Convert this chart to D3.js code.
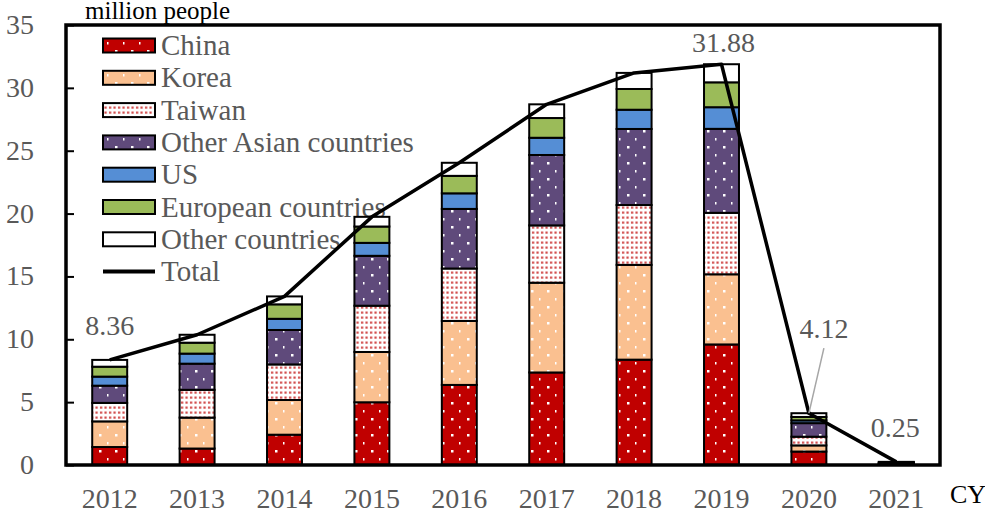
<!DOCTYPE html>
<html>
<head>
<meta charset="utf-8">
<script src="https://cdn.jsdelivr.net/npm/d3@7"></script>
<style>
  body { margin: 0; background: #fff; }
</style>
</head>
<body>
<svg id="chart" width="985" height="513" font-family="'Liberation Serif', 'Times New Roman', serif"></svg>
<script>
// values in million people
let years = ["2012", "2013", "2014", "2015", "2016", "2017", "2018", "2019", "2020", "2021"];
let china = [1.43, 1.31, 2.41, 4.99, 6.37, 7.36, 8.38, 9.59, 1.07, 0.04];
let korea = [2.04, 2.46, 2.76, 4.00, 5.09, 7.14, 7.54, 5.58, 0.49, 0.02];
let taiwan = [1.47, 2.21, 2.83, 3.68, 4.17, 4.56, 4.76, 4.89, 0.69, 0.01];
let otherAsia = [1.37, 2.08, 2.74, 3.97, 4.74, 5.60, 6.05, 6.68, 1.08, 0.08];
let us = [0.72, 0.80, 0.89, 1.03, 1.24, 1.37, 1.53, 1.72, 0.22, 0.02];
let europe = [0.79, 0.87, 1.15, 1.30, 1.39, 1.57, 1.65, 1.98, 0.27, 0.05];
let others = [0.54, 0.63, 0.63, 0.77, 1.04, 1.09, 1.28, 1.44, 0.30, 0.03];
let totals = [8.36, 10.36, 13.41, 19.74, 24.04, 28.69, 31.19, 31.88, 4.12, 0.25];
let yTicks = [0, 5, 10, 15, 20, 25, 30, 35];
let seriesNames = ["China", "Korea", "Taiwan", "Other Asian countries", "US", "European countries", "Other countries"];
let labelledYears = ["2012", "2019", "2020", "2021"];

let margin = { top: 25, right: 45, bottom: 48, left: 66 };
let svgWidth = 985;
let svgHeight = 513;
let chartRight = svgWidth - margin.right;
let chartBottom = svgHeight - margin.bottom;

let grey = "#595959";

let svg = d3.select("#chart");

// patterns
let defs = svg.append("defs");

function dotPattern(id, bg, dot) {
  let p = defs.append("pattern")
    .attr("id", id)
    .attr("patternUnits", "userSpaceOnUse")
    .attr("width", 16)
    .attr("height", 16);
  p.append("rect").attr("width", 16).attr("height", 16).attr("fill", bg);
  p.append("rect").attr("x", 3).attr("y", 2).attr("width", 2.5).attr("height", 2.5).attr("fill", dot);
  p.append("rect").attr("x", 11).attr("y", 10).attr("width", 1.5).attr("height", 2.5).attr("fill", dot);
}
dotPattern("pChina", "#c00000", "#ffffff");
dotPattern("pKorea", "#fac090", "#ffffff");
dotPattern("pAsia", "#5f4a7b", "#ffffff");

let tw = defs.append("pattern")
  .attr("id", "pTaiwan")
  .attr("patternUnits", "userSpaceOnUse")
  .attr("width", 4.5)
  .attr("height", 5);
tw.append("rect").attr("width", 4.5).attr("height", 5).attr("fill", "#ffffff");
tw.append("rect").attr("x", 1).attr("y", 1.5).attr("width", 2.2).attr("height", 2.2).attr("fill", "#d04848");

let fills = ["url(#pChina)", "url(#pKorea)", "url(#pTaiwan)", "url(#pAsia)", "#558ed5", "#9bbb59", "#ffffff"];

// table for the stack
let table = years.map((yr, i) => ({
  year: yr,
  "China": china[i],
  "Korea": korea[i],
  "Taiwan": taiwan[i],
  "Other Asian countries": otherAsia[i],
  "US": us[i],
  "European countries": europe[i],
  "Other countries": others[i]
}));

let stacked = d3.stack().keys(seriesNames)(table);

let x = d3.scaleBand()
  .domain(years)
  .range([margin.left, chartRight])
  .paddingInner(0.6)
  .paddingOuter(0.3);

let y = d3.scaleLinear()
  .domain([0, 35])
  .range([chartBottom, margin.top]);

// legend
let legend = svg.append("g").attr("id", "legend");
let legendX = 103;
let legendY = 45.5;
let legendStep = 32.3;

seriesNames.forEach((name, i) => {
  let cy = legendY + i * legendStep;
  legend.append("rect")
    .attr("x", legendX)
    .attr("y", cy - 7)
    .attr("width", 52)
    .attr("height", 14)
    .attr("fill", fills[i])
    .attr("stroke", "#000")
    .attr("stroke-width", 2);
  legend.append("text")
    .attr("x", 161)
    .attr("y", cy + 9.5)
    .attr("fill", grey)
    .attr("font-size", 29)
    .text(name);
});
let totalY = legendY + seriesNames.length * legendStep;
legend.append("line")
  .attr("x1", legendX)
  .attr("x2", legendX + 52)
  .attr("y1", totalY)
  .attr("y2", totalY)
  .attr("stroke", "#000")
  .attr("stroke-width", 4);
legend.append("text")
  .attr("x", 161)
  .attr("y", totalY + 9.5)
  .attr("fill", grey)
  .attr("font-size", 29)
  .text("Total");

// bars
let layers = svg.append("g").attr("id", "bars")
  .selectAll("g")
  .data(stacked)
  .enter()
  .append("g")
  .attr("fill", (d, i) => fills[i]);

layers.selectAll("rect")
  .data(d => d)
  .enter()
  .append("rect")
    .attr("x", d => x(d.data.year))
    .attr("width", x.bandwidth())
    .attr("y", d => y(d[1]))
    .attr("height", d => y(d[0]) - y(d[1]))
    .attr("stroke", "#000")
    .attr("stroke-width", 2);

// total line
let line = d3.line()
  .x((d, i) => x(years[i]) + x.bandwidth() / 2)
  .y(d => y(d));

svg.append("path")
  .datum(totals)
  .attr("fill", "none")
  .attr("stroke", "#000")
  .attr("stroke-width", 3.5)
  .attr("stroke-linejoin", "round")
  .attr("d", line);

// frame
svg.append("rect")
  .attr("x", margin.left)
  .attr("y", margin.top)
  .attr("width", chartRight - margin.left)
  .attr("height", chartBottom - margin.top)
  .attr("fill", "none")
  .attr("stroke", "#000")
  .attr("stroke-width", 3.5);

// y axis, ticks inside
let yAxis = svg.append("g")
  .attr("transform", "translate(" + margin.left + ",0)")
  .call(d3.axisRight(y).tickValues(yTicks).tickSize(8).tickFormat(""));
yAxis.select(".domain").remove();
yAxis.selectAll("line").attr("stroke", "#000").attr("stroke-width", 2);

svg.append("g").selectAll("text")
  .data(yTicks)
  .enter()
  .append("text")
    .attr("x", 34)
    .attr("y", d => y(d) + 9)
    .attr("text-anchor", "end")
    .attr("fill", grey)
    .attr("font-size", 28)
    .text(d => d);

// x labels
svg.append("g").selectAll("text")
  .data(years)
  .enter()
  .append("text")
    .attr("x", d => x(d) + x.bandwidth() / 2)
    .attr("y", 508)
    .attr("text-anchor", "middle")
    .attr("fill", grey)
    .attr("font-size", 28)
    .text(d => d);

svg.append("text")
  .attr("x", 950)
  .attr("y", 503)
  .attr("font-size", 26)
  .attr("fill", "#000")
  .text("CY");

svg.append("text")
  .attr("x", 85)
  .attr("y", 19)
  .attr("font-size", 25)
  .attr("fill", "#000")
  .text("million people");

// total labels
let labelOffset = {
  "2012": { dx: 0, dy: -25 },
  "2019": { dx: 2, dy: -12 },
  "2020": { dx: 15, dy: -75 },
  "2021": { dx: -1, dy: -25 }
};

labelledYears.forEach(yr => {
  let i = years.indexOf(yr);
  let cx = x(yr) + x.bandwidth() / 2;
  let ty = y(totals[i]);
  let off = labelOffset[yr];
  svg.append("text")
    .attr("x", cx + off.dx)
    .attr("y", ty + off.dy)
    .attr("text-anchor", "middle")
    .attr("fill", grey)
    .attr("font-size", 28)
    .text(totals[i].toFixed(2));
  if (yr === "2020") {
    svg.append("line")
      .attr("x1", cx + off.dx)
      .attr("y1", ty + off.dy + 10)
      .attr("x2", cx)
      .attr("y2", ty)
      .attr("stroke", "#a6a6a6")
      .attr("stroke-width", 1.5);
  }
});
</script>
</body>
</html>
